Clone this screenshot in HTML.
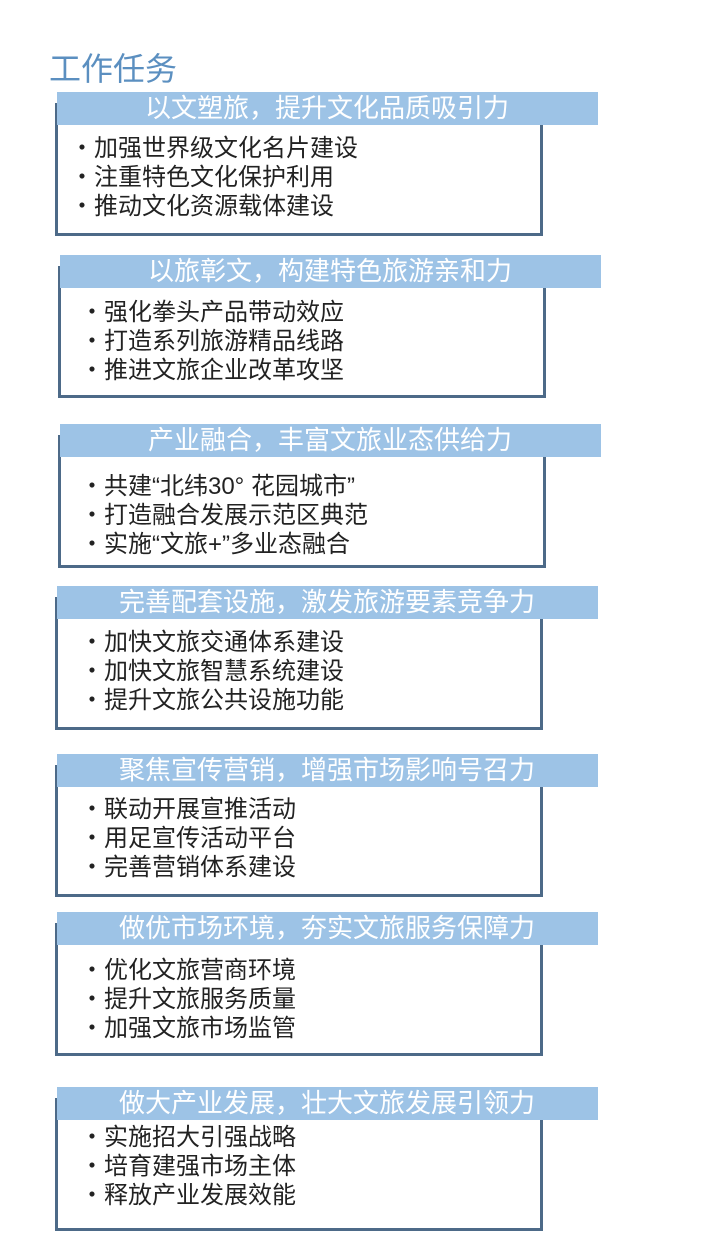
<!DOCTYPE html>
<html><head><meta charset="utf-8"><style>
body{margin:0;width:718px;height:1247px;background:#fff;position:relative;font-family:"Liberation Sans","Noto Sans CJK SC",sans-serif;overflow:hidden}
.t{position:absolute;left:49px;top:50px;font-size:32px;color:#5b8fc0;line-height:38px}
.box{position:absolute;border:3px solid #4d6a88;background:#fff}
.hd{position:absolute;height:33px;background:#9dc3e6;color:#fff;font-size:26px;line-height:33px;overflow:hidden}
.hd span{position:absolute;left:0;width:540px;text-align:center;white-space:nowrap}
.ln{position:absolute;font-size:24px;color:#222;line-height:29px;white-space:nowrap}
</style></head><body>
<div class="t">工作任务</div>

<div class="box" style="left:55px;top:103px;width:482px;height:127px"></div>
<div class="hd" style="left:57px;top:92px;width:541px"><span>以文塑旅，提升文化品质吸引力</span></div>
<div class="ln" style="left:70px;top:134px">・加强世界级文化名片建设<br>・注重特色文化保护利用<br>・推动文化资源载体建设</div>

<div class="box" style="left:58px;top:266px;width:482px;height:126px"></div>
<div class="hd" style="left:60px;top:255px;width:541px"><span>以旅彰文，构建特色旅游亲和力</span></div>
<div class="ln" style="left:80px;top:298px">・强化拳头产品带动效应<br>・打造系列旅游精品线路<br>・推进文旅企业改革攻坚</div>

<div class="box" style="left:58px;top:435px;width:482px;height:127px"></div>
<div class="hd" style="left:60px;top:424px;width:541px"><span>产业融合，丰富文旅业态供给力</span></div>
<div class="ln" style="left:80px;top:472px">・共建“北纬30° 花园城市”<br>・打造融合发展示范区典范<br>・实施“文旅+”多业态融合</div>

<div class="box" style="left:55px;top:597px;width:482px;height:127px"></div>
<div class="hd" style="left:57px;top:586px;width:541px"><span>完善配套设施，激发旅游要素竞争力</span></div>
<div class="ln" style="left:80px;top:628px">・加快文旅交通体系建设<br>・加快文旅智慧系统建设<br>・提升文旅公共设施功能</div>

<div class="box" style="left:55px;top:765px;width:482px;height:126px"></div>
<div class="hd" style="left:57px;top:754px;width:541px"><span>聚焦宣传营销，增强市场影响号召力</span></div>
<div class="ln" style="left:80px;top:795px">・联动开展宣推活动<br>・用足宣传活动平台<br>・完善营销体系建设</div>

<div class="box" style="left:55px;top:923px;width:482px;height:127px"></div>
<div class="hd" style="left:57px;top:912px;width:541px"><span>做优市场环境，夯实文旅服务保障力</span></div>
<div class="ln" style="left:80px;top:956px">・优化文旅营商环境<br>・提升文旅服务质量<br>・加强文旅市场监管</div>

<div class="box" style="left:55px;top:1098px;width:482px;height:127px"></div>
<div class="hd" style="left:57px;top:1087px;width:541px"><span>做大产业发展，壮大文旅发展引领力</span></div>
<div class="ln" style="left:80px;top:1123px">・实施招大引强战略<br>・培育建强市场主体<br>・释放产业发展效能</div>
</body></html>
